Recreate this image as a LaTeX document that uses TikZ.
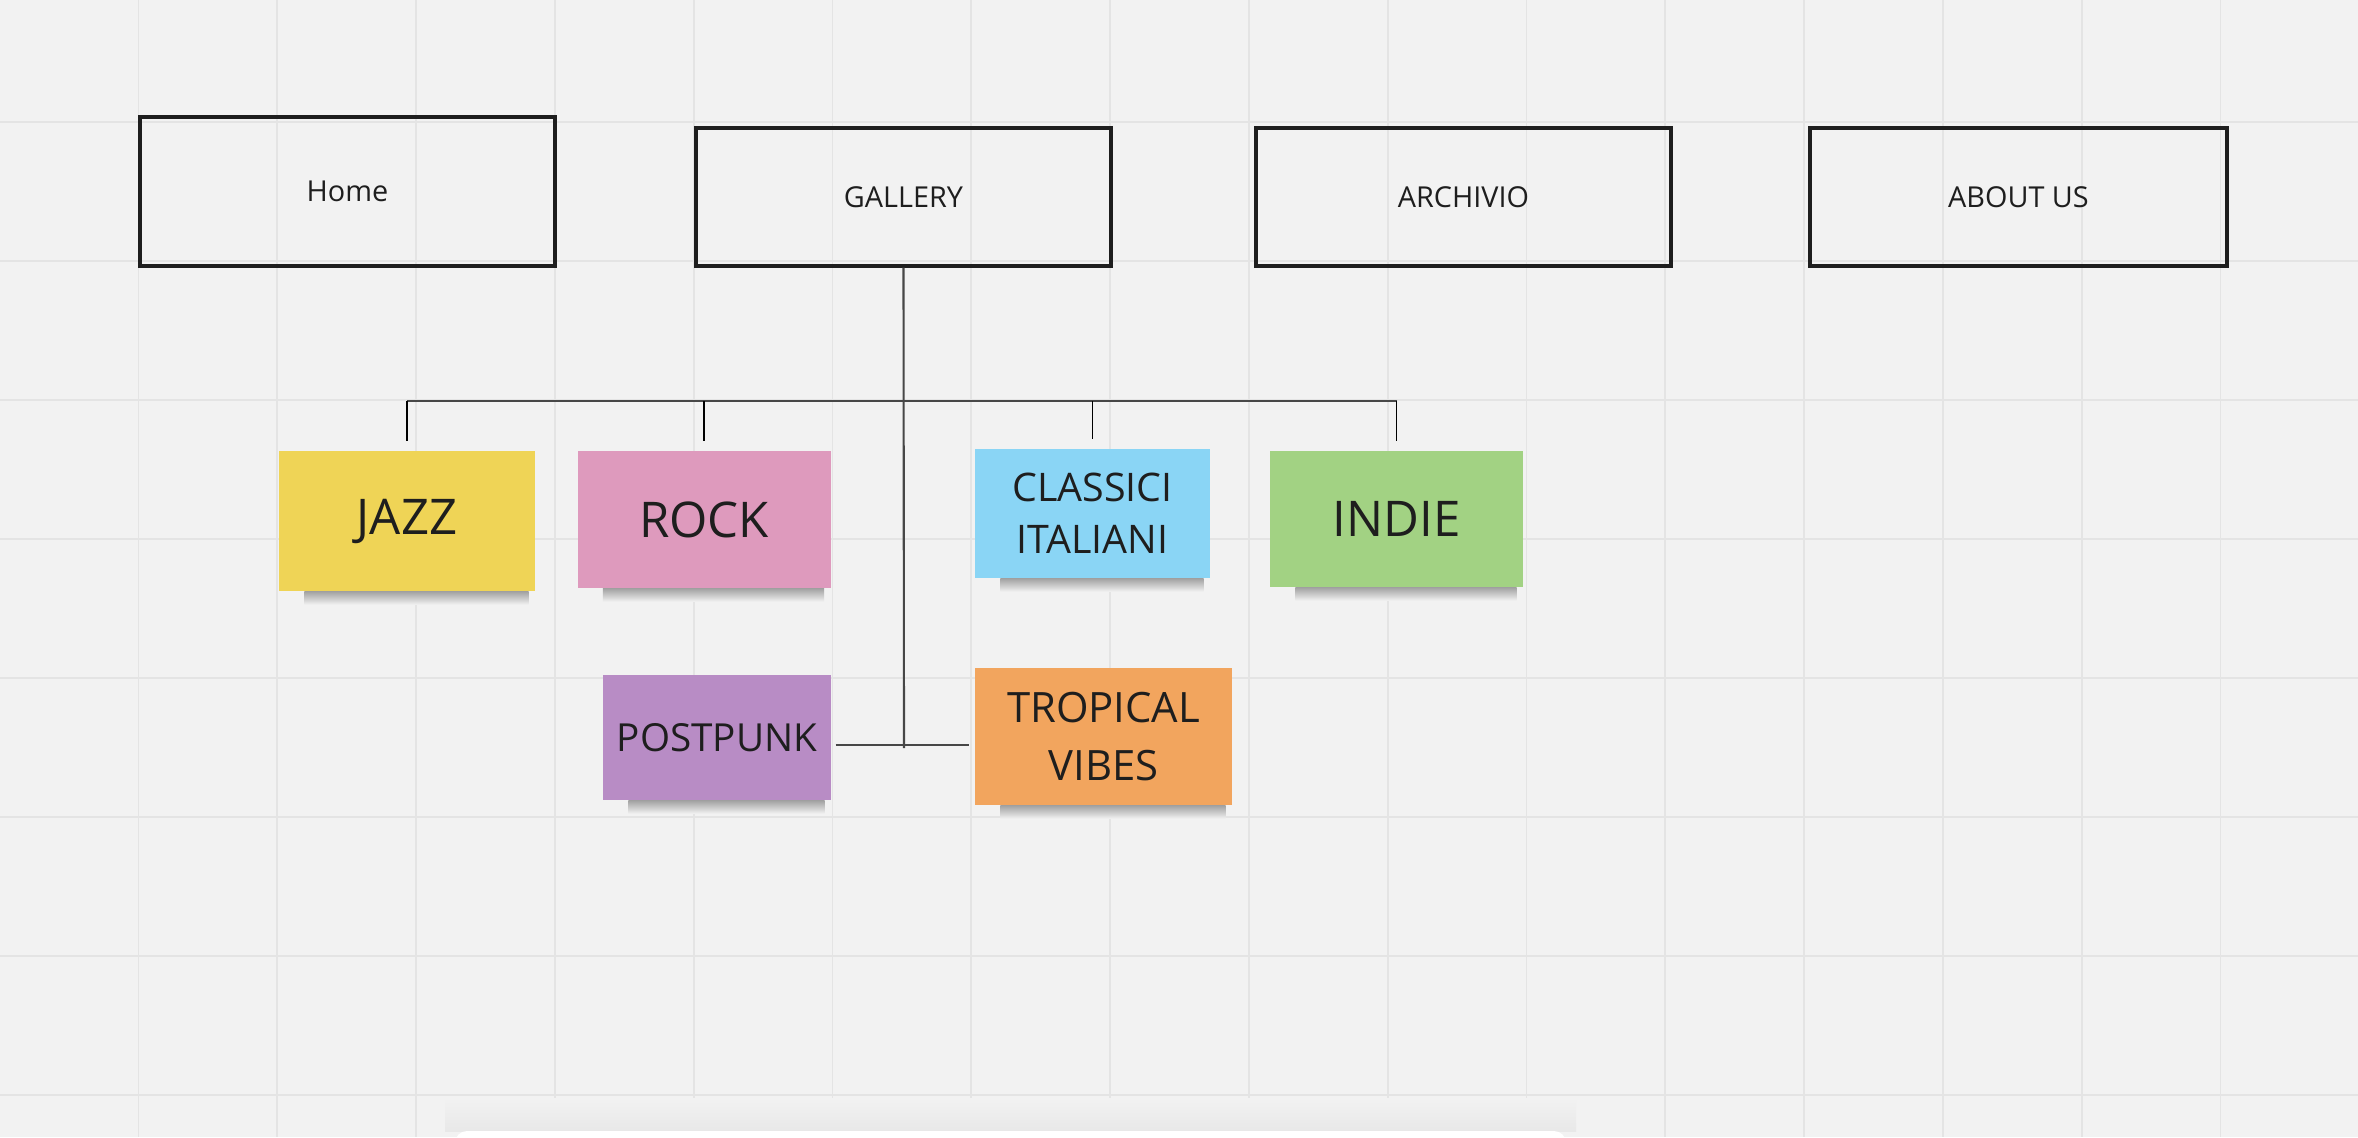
\documentclass[tikz,border=0pt]{standalone}
\usepackage{fontspec}
\setmainfont{Open Sans}
\usepackage{xcolor}
\usetikzlibrary{positioning,calc}

\definecolor{board}{HTML}{F2F2F2}
\definecolor{gridline}{HTML}{E4E4E4}
\definecolor{inkdark}{HTML}{1E1E1E}
\definecolor{jazzyellow}{HTML}{EFD456}
\definecolor{rockpink}{HTML}{DE9ABD}
\definecolor{classicblue}{HTML}{8AD5F5}
\definecolor{indiegreen}{HTML}{A2D283}
\definecolor{punkpurple}{HTML}{B88CC5}
\definecolor{tropicorange}{HTML}{F2A55E}

\begin{document}
\begin{tikzpicture}[
  pagebox/.style={draw=inkdark, line width=0.9pt, minimum width=4.15cm,
    minimum height=1.38cm, inner sep=0pt, text=inkdark,
    font=\fontsize{8.2}{10}\selectfont},
  sticky/.style={fill=#1, inner sep=0pt, text=inkdark, align=center},
  bigtag/.style={font=\fontsize{14}{17}\selectfont},
  busline/.style={draw=black!72, line width=0.6pt},
  drop/.style={draw=black, line width=0.45pt, shorten >=0.09cm},
]
  % Board: background and grid
  \fill[board] (0,0) rectangle (23.58,-11.37);
  \useasboundingbox (0,0) rectangle (23.58,-11.37);
  \foreach \i in {0,...,15}{
    \pgfmathsetmacro{\xx}{1.385+1.388*\i}
    \draw[gridline, line width=0.5pt] (\xx,0) -- (\xx,-11.37);
  }
  \foreach \j in {0,...,7}{
    \pgfmathsetmacro{\yy}{-1.22-1.39*\j}
    \draw[gridline, line width=0.5pt] (0,\yy) -- (23.58,\yy);
  }

  % --- Top menu boxes ---
  \node[pagebox, minimum height=1.49cm] (home) at (3.475,-1.915) {Home};
  \node[pagebox] (gallery) at (9.035,-1.97) {GALLERY};
  \node[pagebox] (archivio) at (14.635,-1.97) {ARCHIVIO};
  \node[pagebox, minimum width=4.17cm] (about) at (20.185,-1.97) {ABOUT US};

  % --- Sticky notes (genres) ---
  \node[sticky=jazzyellow, bigtag, minimum width=2.56cm, minimum height=1.40cm]
    (jazz) at (4.07,-5.21) {JAZZ};
  \node[sticky=rockpink, bigtag, minimum width=2.53cm, minimum height=1.37cm]
    (rock) at (7.04,-5.195) {ROCK};
  \node[sticky=classicblue, minimum width=2.35cm, minimum height=1.29cm,
    font=\fontsize{11.2}{14.7}\selectfont]
    (classici) at (10.925,-5.135) {CLASSICI\\ITALIANI};
  \node[sticky=indiegreen, bigtag, minimum width=2.53cm, minimum height=1.36cm]
    (indie) at (13.965,-5.19) {INDIE};
  \node[sticky=punkpurple, minimum width=2.28cm, minimum height=1.25cm,
    font=\fontsize{11}{13}\selectfont]
    (postpunk) at (7.17,-7.375) {POSTPUNK};
  \node[sticky=tropicorange, minimum width=2.57cm, minimum height=1.37cm,
    font=\fontsize{11.9}{16.3}\selectfont]
    (tropical) at (11.035,-7.365) {TROPICAL\\VIBES};

  % soft shadows under the notes
  \foreach \n in {jazz,rock,classici,indie,postpunk,tropical}{
    \shade[top color=black!36, bottom color=board]
      ([xshift=0.26cm]\n.south west) rectangle ([xshift=-0.07cm,yshift=-0.13cm]\n.south east);
  }

  % --- Connectors ---
  \coordinate (bus) at (0,-4.01);
  \coordinate (hub) at (9.04,-7.45);
  \draw[busline] (jazz.north |- bus) -- (indie.north |- bus);
  \foreach \n in {jazz,rock,classici,indie}{
    \draw[drop] (\n.north |- bus) -- (\n.north);
  }
  \draw[busline] (gallery.south) -- ([yshift=-0.03cm]hub);
  \draw[busline, shorten <=0.04cm, shorten >=0.05cm]
    (postpunk.east |- hub) -- (tropical.west |- hub);

  % toolbar peeking in at the bottom edge
  \shade[top color=board, bottom color=black!9]
    (4.45,-10.98) rectangle (15.76,-11.31);
  \fill[white, rounded corners=0.12cm] (4.55,-11.31) rectangle (15.66,-11.8);
\end{tikzpicture}
\end{document}
